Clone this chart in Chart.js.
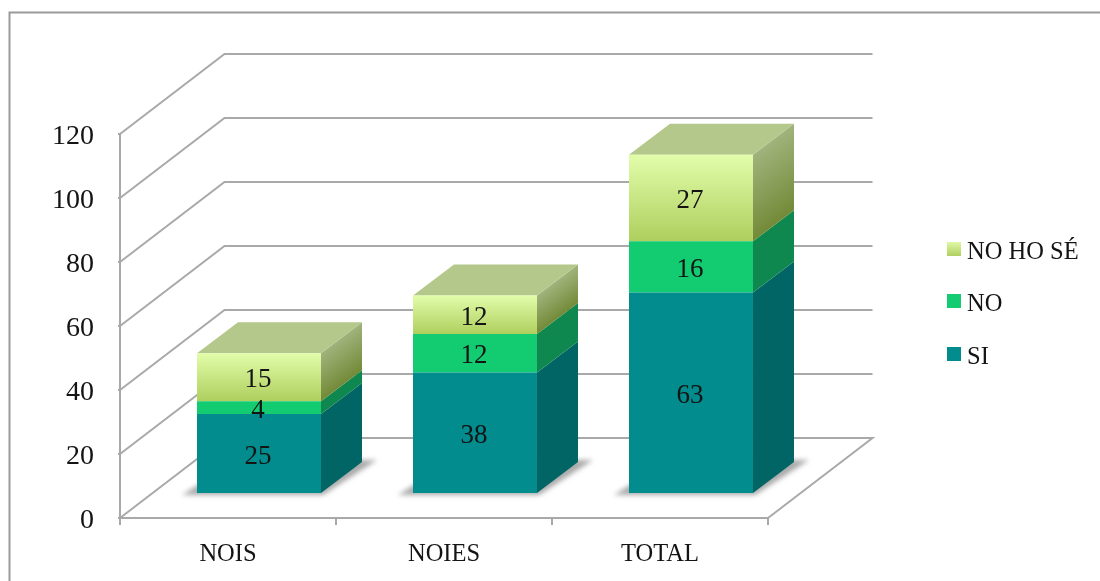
<!DOCTYPE html>
<html>
<head>
<meta charset="utf-8">
<style>
  html, body { margin: 0; padding: 0; background: #fff; }
  canvas { display: block; }
</style>
<script src="https://cdn.jsdelivr.net/npm/chart.js@4"></script>
</head>
<body>
<div style="width:1100px;height:581px"><canvas id="c" width="1100" height="581"></canvas></div>
<script>
const categories = ['NOIS', 'NOIES', 'TOTAL'];
const siValues = [25, 38, 63];
const noValues = [4, 12, 16];
const noHoSeValues = [15, 12, 27];
const yTicks = [0, 20, 40, 60, 80, 100, 120];

const FONT = '"Liberation Serif", serif';
const INK = '#141414';
const LINE = '#a9a9a9';

// Oblique projection: depth of the room, depth of a bar, and the bar's seat on the floor.
const ROOM = { dx: 104.5, dy: 80 };
const BAR = { dx: 41, dy: 31 };
const SEAT = { dx: 31, dy: 24 };

function stackedPixel(chart, datasetIndex, index) {
  let sum = 0;
  for (let d = 0; d <= datasetIndex; d++) sum += chart.data.datasets[d].data[index];
  return chart.scales.y.getPixelForValue(sum);
}

function frontFill(top, bottom) {
  return (ctx) => {
    const chart = ctx.chart;
    if (ctx.type !== 'data' || !chart.scales.y) return top;
    const y1 = stackedPixel(chart, ctx.datasetIndex, ctx.dataIndex);
    const h = chart.scales.y.getPixelForValue(0) -
      chart.scales.y.getPixelForValue(chart.data.datasets[ctx.datasetIndex].data[ctx.dataIndex]);
    if (!Number.isFinite(y1) || !Number.isFinite(h)) return top;
    const g = chart.ctx.createLinearGradient(0, y1, 0, y1 + h);
    g.addColorStop(0, top);
    g.addColorStop(1, bottom);
    return g;
  };
}

const room = {
  id: 'room',
  beforeDraw(chart) {
    const { ctx, scales: { x, y } } = chart;
    ctx.save();
    // Outer frame: top and left edges only
    ctx.strokeStyle = '#9a9a9a';
    ctx.lineWidth = 2;
    ctx.beginPath();
    ctx.moveTo(9.5, chart.height);
    ctx.lineTo(9.5, 12.5);
    ctx.lineTo(chart.width, 12.5);
    ctx.stroke();

    // Walls: each gridline runs up the side wall, then across the back wall
    ctx.strokeStyle = LINE;
    ctx.lineJoin = 'miter';
    const left = x.left, right = x.right;
    yTicks.forEach((v) => {
      const py = y.getPixelForValue(v);
      ctx.beginPath();
      ctx.moveTo(left, py);
      ctx.lineTo(left + ROOM.dx, py - ROOM.dy);
      ctx.lineTo(right + ROOM.dx, py - ROOM.dy);
      if (v === 0) ctx.lineTo(right, py);
      ctx.stroke();
    });
    ctx.restore();
  },
  beforeDatasetsDraw(chart) {
    const { ctx } = chart;
    const base = chart.getDatasetMeta(0).data;

    // Soft contact shadows on the floor
    ctx.save();
    ctx.filter = 'blur(2.5px)';
    ctx.fillStyle = 'rgba(50,50,50,0.42)';
    base.forEach((el) => {
      const l = el.x - el.width / 2 + SEAT.dx, r = el.x + el.width / 2 + SEAT.dx;
      const b = el.base - SEAT.dy;
      ctx.beginPath();
      ctx.moveTo(l - 15, b + 2);
      ctx.lineTo(r + 2, b + 2);
      ctx.lineTo(r + BAR.dx + 15, b - BAR.dy - 2);
      ctx.lineTo(l + BAR.dx, b - BAR.dy - 2);
      ctx.closePath();
      ctx.fill();
    });
    ctx.restore();

    // Side and top faces
    chart.data.datasets.forEach((ds, di) => {
      chart.getDatasetMeta(di).data.forEach((el) => {
        const r = el.x + el.width / 2 + SEAT.dx;
        const l = el.x - el.width / 2 + SEAT.dx;
        const top = el.y - SEAT.dy;
        const bot = el.base - SEAT.dy;
        ctx.save();
        ctx.transform(1, -BAR.dy / BAR.dx, 0, 1, r, 0);
        const g = ctx.createLinearGradient(0, top, 0, bot);
        g.addColorStop(0, ds.sideColors[0]);
        g.addColorStop(1, ds.sideColors[1]);
        ctx.fillStyle = g;
        ctx.fillRect(0, top, BAR.dx, bot - top);
        ctx.restore();
        if (di === chart.data.datasets.length - 1) {
          ctx.fillStyle = ds.topColor;
          ctx.beginPath();
          ctx.moveTo(l, top);
          ctx.lineTo(r, top);
          ctx.lineTo(r + BAR.dx, top - BAR.dy);
          ctx.lineTo(l + BAR.dx, top - BAR.dy);
          ctx.closePath();
          ctx.fill();
        }
      });
    });

    // Front faces are drawn by the library, shifted onto the floor
    ctx.save();
    ctx.translate(SEAT.dx, -SEAT.dy);
  },
  afterDatasetsDraw(chart) {
    const { ctx } = chart;
    ctx.restore();

    // Value labels at the centre of each front face
    ctx.save();
    ctx.font = '27px ' + FONT;
    ctx.fillStyle = INK;
    ctx.textAlign = 'center';
    ctx.textBaseline = 'middle';
    chart.data.datasets.forEach((ds, di) => {
      chart.getDatasetMeta(di).data.forEach((el, i) => {
        ctx.fillText(String(ds.data[i]), el.x + SEAT.dx - 1, (el.y + el.base) / 2 - SEAT.dy + 3);
      });
    });
    ctx.restore();

    // Legend, top of the stack first
    ctx.save();
    const rows = [252, 304, 357];
    ctx.font = '24.5px ' + FONT;
    ctx.textBaseline = 'middle';
    ctx.textAlign = 'left';
    [...chart.data.datasets].reverse().forEach((ds, i) => {
      const cy = rows[i];
      const g = ctx.createLinearGradient(0, cy - 10, 0, cy + 4);
      g.addColorStop(0, ds.swatch[0]);
      g.addColorStop(1, ds.swatch[1]);
      ctx.fillStyle = g;
      ctx.fillRect(947, cy - 10, 14, 14);
      ctx.fillStyle = INK;
      ctx.fillText(ds.label, 967, cy + 1);
    });
    ctx.restore();
  }
};

new Chart(document.getElementById('c'), {
  type: 'bar',
  data: {
    labels: categories,
    datasets: [
      { label: 'SI', data: siValues, backgroundColor: '#028c8e',
        sideColors: ['#016465', '#016465'], swatch: ['#028c8e', '#028c8e'], clip: false },
      { label: 'NO', data: noValues, backgroundColor: '#13cb70',
        sideColors: ['#0e884e', '#0e884e'], swatch: ['#13cb70', '#13cb70'], clip: false },
      { label: 'NO HO SÉ', data: noHoSeValues,
        backgroundColor: frontFill('#e2fdaa', '#aecf5e'),
        sideColors: ['#a0b37c', '#738a38'], topColor: '#b3c88a',
        swatch: ['#dff8a6', '#b0d060'], clip: false }
    ]
  },
  plugins: [room],
  options: {
    responsive: false,
    animation: false,
    layout: { padding: { top: 134, right: 332, left: 0, bottom: 0 } },
    plugins: { legend: { display: false }, tooltip: { enabled: false } },
    datasets: { bar: { categoryPercentage: 1, barPercentage: 0.574, borderWidth: 0 } },
    scales: {
      x: {
        stacked: true,
        afterFit: (s) => { s.height = 63; },
        grid: { drawOnChartArea: false, drawTicks: true, tickLength: 7, color: LINE, lineWidth: 2 },
        border: { color: LINE, width: 2 },
        ticks: { color: INK, font: { family: FONT, size: 24.5 }, padding: 15, maxRotation: 0, autoSkip: false }
      },
      y: {
        stacked: true,
        min: 0,
        max: 120,
        afterFit: (s) => { s.width = 120; },
        afterBuildTicks: (s) => { s.ticks = yTicks.map((value) => ({ value })); },
        grid: { drawOnChartArea: false, drawTicks: true, tickLength: 2, color: LINE, lineWidth: 2 },
        border: { color: LINE, width: 2 },
        ticks: { color: INK, font: { family: FONT, size: 28 }, padding: 24, labelOffset: 3 }
      }
    }
  }
});
</script>
</body>
</html>
